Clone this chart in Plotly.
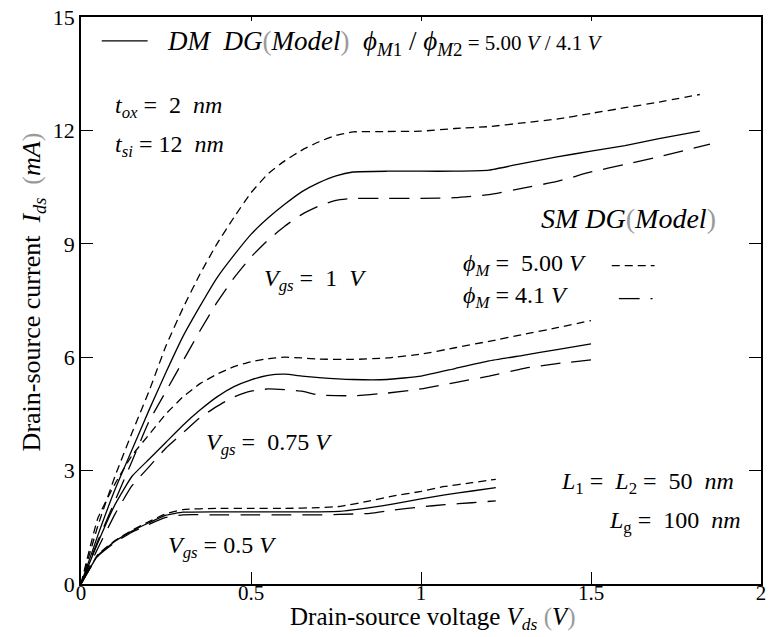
import plotly.graph_objects as go

# ---- Vgs = 1 V ----
vds_g1 = [0, 0.05, 0.1, 0.15, 0.2, 0.25, 0.3, 0.35, 0.4, 0.45, 0.5, 0.55, 0.6, 0.65,
          0.7, 0.75, 0.8, 0.9, 1.0, 1.1, 1.2, 1.3, 1.4, 1.5, 1.6, 1.7, 1.82]
ids_g1_sm500 = [0, 1.55, 2.85, 4.0, 5.1, 6.3, 7.3, 8.2, 9.0, 9.7, 10.35, 10.85, 11.2, 11.48,
                11.7, 11.87, 11.96, 11.97, 11.98, 12.05, 12.1, 12.2, 12.3, 12.45, 12.6, 12.75, 12.95]
ids_g1_dm = [0, 1.3, 2.5, 3.55, 4.6, 5.6, 6.55, 7.35, 8.1, 8.7, 9.25, 9.68, 10.05, 10.38,
             10.62, 10.8, 10.9, 10.92, 10.92, 10.92, 10.95, 11.13, 11.3, 11.45, 11.6, 11.78, 11.98]
vds_g1_sm41 = [0, 0.05, 0.1, 0.15, 0.2, 0.25, 0.3, 0.35, 0.4, 0.45, 0.5, 0.55, 0.6, 0.65,
               0.7, 0.75, 0.8, 0.9, 1.0, 1.1, 1.2, 1.3, 1.4, 1.5, 1.6, 1.7, 1.85]
ids_g1_sm41 = [0, 1.15, 2.2, 3.25, 4.3, 5.1, 5.9, 6.7, 7.45, 8.1, 8.65, 9.1, 9.47, 9.78,
               10.0, 10.15, 10.2, 10.2, 10.2, 10.22, 10.3, 10.47, 10.65, 10.9, 11.1, 11.3, 11.64]

# ---- Vgs = 0.75 V ----
vds_g2 = [0, 0.05, 0.1, 0.15, 0.2, 0.25, 0.3, 0.35, 0.4, 0.45, 0.5, 0.55, 0.6, 0.65,
          0.7, 0.8, 0.9, 1.0, 1.1, 1.2, 1.3, 1.4, 1.5]
ids_g2_sm500 = [0, 1.75, 2.65, 3.4, 3.95, 4.5, 4.95, 5.3, 5.55, 5.75, 5.88, 5.96, 6.0, 5.98,
                5.95, 5.94, 5.98, 6.08, 6.25, 6.42, 6.6, 6.78, 6.97]
ids_g2_dm = [0, 1.1, 2.1, 2.85, 3.3, 3.75, 4.2, 4.6, 4.95, 5.22, 5.4, 5.52, 5.55, 5.5,
             5.46, 5.41, 5.41, 5.5, 5.7, 5.9, 6.05, 6.2, 6.35]
ids_g2_sm41 = [0, 0.95, 1.85, 2.6, 3.1, 3.6, 4.0, 4.4, 4.7, 4.95, 5.1, 5.16, 5.14, 5.1,
               5.0, 4.98, 5.05, 5.16, 5.33, 5.5, 5.7, 5.83, 5.93]

# ---- Vgs = 0.5 V ----
vds_g3 = [0, 0.05, 0.1, 0.15, 0.2, 0.25, 0.3, 0.4, 0.5, 0.6, 0.7, 0.76, 0.85, 0.92, 1.0, 1.07, 1.15, 1.22]
ids_g3_sm500 = [0, 0.78, 1.15, 1.42, 1.65, 1.86, 1.97, 2.0, 2.0, 2.0, 2.02, 2.05, 2.2, 2.33, 2.45, 2.58, 2.68, 2.77]
ids_g3_dm = [0, 0.76, 1.13, 1.4, 1.62, 1.82, 1.9, 1.91, 1.91, 1.91, 1.91, 1.92, 2.02, 2.12, 2.25, 2.36, 2.46, 2.55]
ids_g3_sm41 = [0, 0.74, 1.1, 1.37, 1.58, 1.76, 1.83, 1.83, 1.83, 1.83, 1.83, 1.84, 1.87, 1.96, 2.04, 2.1, 2.15, 2.2]

x_ticks = [0, 0.5, 1, 1.5, 2]
x_ticktext = ["0", "0.5", "1", "1.5", "2"]
y_ticks = [0, 3, 6, 9, 12, 15]
y_ticktext = ["0", "3", "6", "9", "12", "15"]

SERIF = "Liberation Serif"
DASH_SHORT = "8px,5px"
DASH_LONG = "20px,11px"

fig = go.Figure()

curves = [
    (vds_g1, ids_g1_sm500, DASH_SHORT), (vds_g1, ids_g1_dm, "solid"), (vds_g1_sm41, ids_g1_sm41, DASH_LONG),
    (vds_g2, ids_g2_sm500, DASH_SHORT), (vds_g2, ids_g2_dm, "solid"), (vds_g2, ids_g2_sm41, DASH_LONG),
    (vds_g3, ids_g3_sm500, DASH_SHORT), (vds_g3, ids_g3_dm, "solid"), (vds_g3, ids_g3_sm41, DASH_LONG),
]
for xs, ys, dash in curves:
    fig.add_trace(go.Scatter(x=xs, y=ys, mode="lines",
                             line=dict(color="black", width=1.3, dash=dash, shape="spline", smoothing=0.4),
                             showlegend=False, hoverinfo="skip"))

# top axis carrying the short mirrored ticks
fig.add_trace(go.Scatter(x=[0, 2], y=[0, 15], mode="lines", line=dict(width=0), xaxis="x2",
                         showlegend=False, hoverinfo="skip"))

axis_line = dict(showline=True, linecolor="black", linewidth=1.6, showgrid=False, zeroline=False)
fig.update_layout(
    width=771, height=637,
    margin=dict(l=81, r=5, t=12, b=53),
    paper_bgcolor="white", plot_bgcolor="white",
    font=dict(family=SERIF, color="black"),
    xaxis=dict(range=[0, 2], tickvals=x_ticks, ticktext=x_ticktext, ticks="inside", ticklen=12,
               tickwidth=1.3, tickcolor="black", mirror=True, tickfont=dict(size=21, family=SERIF),
               ticklabelstandoff=-11, ticklabeloverflow="allow", **axis_line),
    xaxis2=dict(range=[0, 2], overlaying="x", side="top", tickvals=x_ticks, ticks="inside", ticklen=4,
                tickwidth=1, tickcolor="black", showticklabels=False, showgrid=False, zeroline=False,
                showline=False),
    yaxis=dict(range=[0, 15], tickvals=y_ticks, ticktext=y_ticktext, ticks="inside", ticklen=12,
               tickwidth=1.3, tickcolor="black", mirror="ticks", tickfont=dict(size=22, family=SERIF),
               ticklabeloverflow="allow", **axis_line),
)

PAREN_L = "<span style='color:#9a9a9a'>(</span>"
PAREN_R = "<span style='color:#9a9a9a'>)</span>"
PHI = "ϕ"


def note(x, y, text, size=24):
    fig.add_annotation(x=x, y=y, xref="x", yref="y", text=text, showarrow=False,
                       xanchor="left", yanchor="middle", font=dict(family=SERIF, size=size, color="black"))


note(0.246, 14.3,
     "<i>DM  DG</i>" + PAREN_L + "<i>Model</i>" + PAREN_R +
     f"  <i>{PHI}</i><sub><i>M</i>1</sub> / <i>{PHI}</i><sub><i>M</i>2</sub>"
     "<span style='font-size:21px'> = 5.00 <i>V</i> / 4.1 <i>V</i></span>", size=27)
note(0.094, 12.61, "<i>t</i><sub><i>ox</i></sub> =  2  <i>nm</i>")
note(0.094, 11.59, "<i>t</i><sub><i>si</i></sub> = 12  <i>nm</i>")
note(0.532, 8.05, "<i>V</i><sub><i>gs</i></sub> =  1  <i>V</i>")
note(0.363, 3.70, "<i>V</i><sub><i>gs</i></sub> =  0.75 <i>V</i>")
note(0.251, 0.97, "<i>V</i><sub><i>gs</i></sub> = 0.5 <i>V</i>")
note(1.348, 9.68, "<i>SM DG</i>" + PAREN_L + "<i>Model</i>" + PAREN_R, size=28)
note(1.117, 8.44, f"<i>{PHI}</i><sub><i>M</i></sub> =  5.00 <i>V</i>", size=24)
note(1.117, 7.58, f"<i>{PHI}</i><sub><i>M</i></sub> = 4.1 <i>V</i>", size=24)
note(1.406, 2.68, "<i>L</i><sub>1</sub> =  <i>L</i><sub>2</sub> =  50  <i>nm</i>")
note(1.547, 1.63, "<i>L</i><sub>g</sub> =  100  <i>nm</i>")

# axis titles
fig.add_annotation(x=-0.07, y=0.515, xref="paper", yref="paper", textangle=-90, showarrow=False,
                   xanchor="center", yanchor="middle",
                   text="Drain-source current  <i>I</i><sub><i>ds</i></sub>  " + PAREN_L + "<i>mA</i>" + PAREN_R,
                   font=dict(family=SERIF, size=26, color="black"))
fig.add_annotation(x=0.517, y=-0.0905, xref="paper", yref="paper", showarrow=False,
                   xanchor="center", yanchor="bottom", borderpad=0,
                   text="Drain-source voltage <i>V</i><sub><i>ds</i></sub> " + PAREN_L + "<i>V</i>" + PAREN_R,
                   font=dict(family=SERIF, size=25, color="black"))

# line-style keys next to the legend texts
key = dict(color="black", width=1.3)
fig.add_shape(type="line", xref="x", yref="y", x0=0.061, x1=0.196, y0=14.37, y1=14.37, line=key)
fig.add_shape(type="line", xref="x", yref="y", x0=1.561, x1=1.687, y0=8.42, y1=8.42,
              line=dict(color="black", width=1.3, dash="8px,5px"))
fig.add_shape(type="line", xref="x", yref="y", x0=1.582, x1=1.643, y0=7.55, y1=7.55, line=key)
fig.add_shape(type="line", xref="x", yref="y", x0=1.675, x1=1.681, y0=7.55, y1=7.55, line=key)

fig.write_html("out.html")
